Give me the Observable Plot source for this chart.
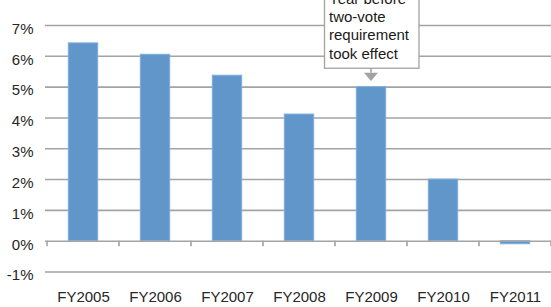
<!DOCTYPE html>
<html><head><meta charset="utf-8">
<script src="https://cdn.jsdelivr.net/npm/d3@7"></script>
<script src="https://cdn.jsdelivr.net/npm/@observablehq/plot@0.6"></script>
<style>html,body{margin:0;padding:0;background:#fff;overflow:hidden}#chart svg{display:block}</style>
</head><body><div id="chart"></div>
<script>
const categories = ["FY2005","FY2006","FY2007","FY2008","FY2009","FY2010","FY2011"];
const values = [6.42, 6.05, 5.37, 4.11, 5.0, 2.0, -0.1];
const yTicks = [-1, 0, 1, 2, 3, 4, 5, 6, 7];
const annotationCategory = "FY2009";
const annotationLines = ["Year before", "two-vote", "requirement", "took effect"];

const data = categories.map((c, i) => ({cat: c, value: values[i]}));
const grid = "#a3a3a3";
const font = "'Liberation Sans', Arial, sans-serif";

const chart = Plot.plot({
  width: 551, height: 307,
  marginLeft: 45, marginRight: 0, marginTop: 25, marginBottom: 35.5,
  style: {fontFamily: font, fontSize: "15px", color: "#262626", background: "#fff", overflow: "hidden"},
  x: {type: "band", domain: categories, range: [45, 553.2], padding: 0, label: null},
  y: {domain: [-1, 7], label: null},
  marks: [
    Plot.ruleY(yTicks.filter(d => d !== 0), {y: d => d, stroke: grid, strokeWidth: 1.6}),
    Plot.barY(data, {x: "cat", y: "value", fill: "#6096c9", stroke: "#7db0e0", strokeWidth: 1, insetLeft: 21.3, insetRight: 21.3}),
    Plot.ruleY([0], {stroke: grid, strokeWidth: 1.6}),
    Plot.axisY(yTicks, {tickSize: 0, tickPadding: 12, dy: 3.5, tickFormat: d => d + "%", label: null, fontSize: 15, fill: "#262626"}),
    Plot.axisX({tickSize: 0, tickPadding: 19.5, label: null, fontSize: 15, fill: "#262626"})
  ]
});
document.getElementById("chart").appendChild(chart);

const xs = chart.scale("x"), ys = chart.scale("y");
const svg = d3.select(chart);

// category separator ticks on the zero line
const y0 = ys.apply(0);
const tickG = svg.append("g").attr("stroke", grid).attr("stroke-width", 1.6);
categories.concat([null]).forEach((c) => {
  const x = c === null ? xs.apply(categories[categories.length - 1]) + xs.step : xs.apply(c);
  tickG.append("line").attr("x1", x).attr("x2", x).attr("y1", y0).attr("y2", y0 + 5.5);
});

// callout annotation
const cx = xs.apply(annotationCategory) + xs.bandwidth / 2;
const barTop = ys.apply(values[categories.indexOf(annotationCategory)]);
const boxBottom = barTop - 18.4;
const g = svg.append("g");
g.append("rect").attr("x", cx - 46.5).attr("y", -10).attr("width", 94.5).attr("height", boxBottom + 10)
  .attr("fill", "#fff").attr("stroke", grid).attr("stroke-width", 1.3);
g.append("line").attr("x1", cx).attr("x2", cx).attr("y1", boxBottom).attr("y2", boxBottom + 4.5)
  .attr("stroke", grid).attr("stroke-width", 1.6);
g.append("path").attr("d", `M${cx - 7},${boxBottom + 4.5}L${cx + 7},${boxBottom + 4.5}L${cx},${boxBottom + 12.8}Z`)
  .attr("fill", grid);
const t = g.append("text").attr("font-family", font).attr("font-size", 15).attr("fill", "#1a1a1a")
  .attr("text-anchor", "start");
const n = annotationLines.length;
annotationLines.forEach((line, i) => {
  t.append("tspan").attr("x", cx - 42).attr("y", boxBottom - 9.6 - (n - 1 - i) * 18.3).text(line);
});
</script>
</body></html>
